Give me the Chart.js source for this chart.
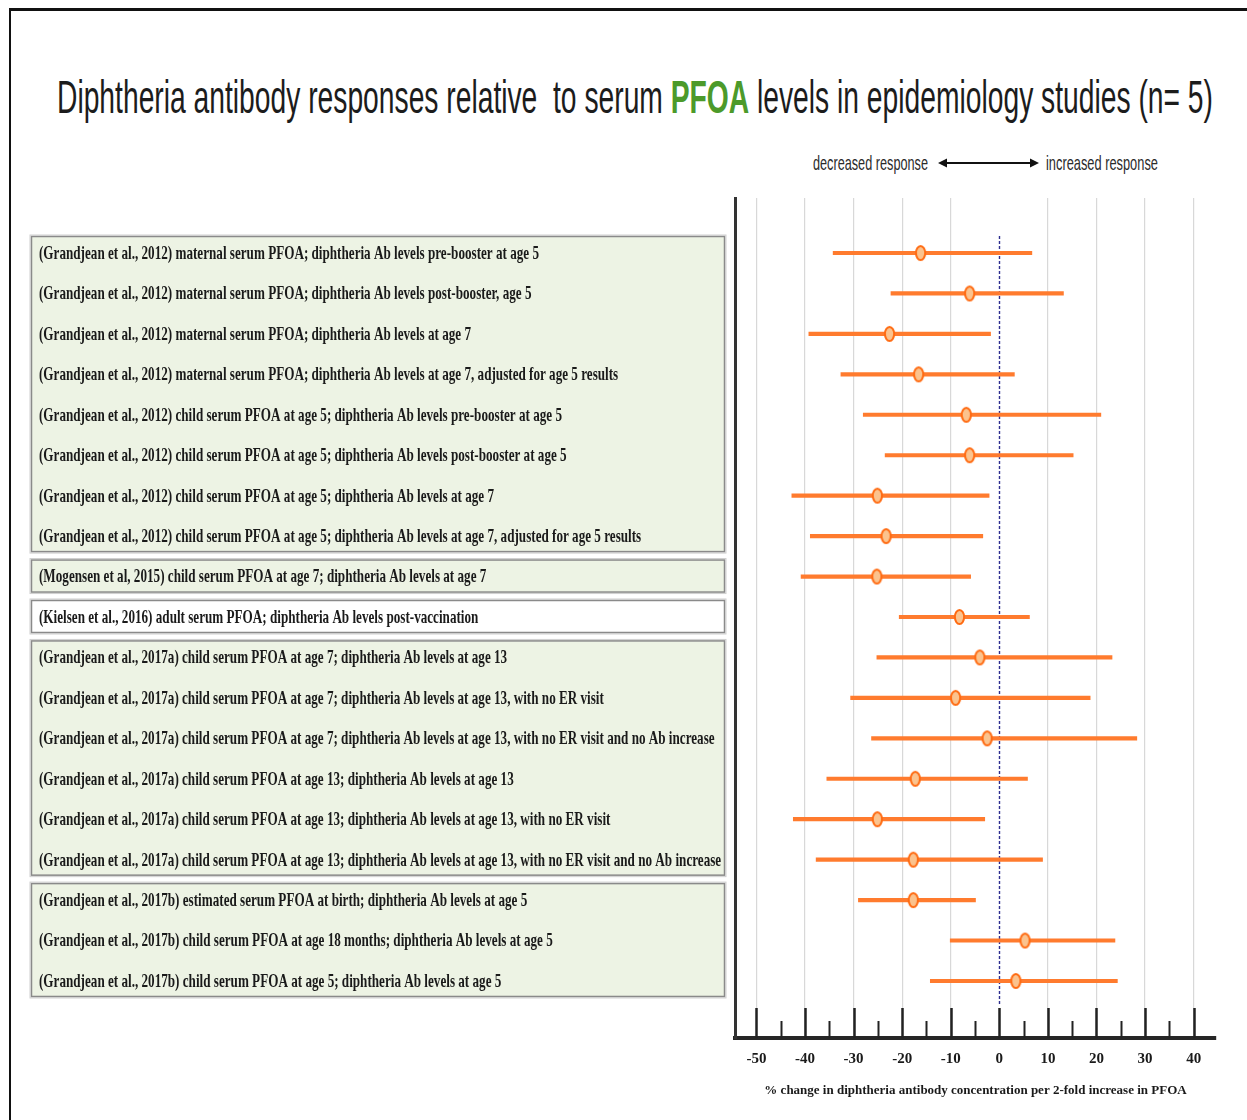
<!DOCTYPE html>
<html><head><meta charset="utf-8">
<script src="https://cdn.jsdelivr.net/npm/chart.js@4.4.1/dist/chart.umd.min.js"></script>
<style>
html,body{margin:0;padding:0;background:#fff;overflow:hidden;width:1247px;height:1120px;}
#frame{position:absolute;left:9px;top:8px;width:1300px;height:1200px;border-top:3px solid #111;border-left:2px solid #111;}
#chart{position:absolute;left:0;top:0;}
.fit{position:absolute;white-space:nowrap;transform-origin:0 50%;line-height:1;}
#title{left:57px;top:81px;font-family:'Liberation Sans',Arial,sans-serif;font-size:32px;color:#1c1c1c;}
#title b{color:#4c9a2a;}
.ann{top:155px;font-family:'Liberation Sans',Arial,sans-serif;font-size:15px;color:#2b2b2b;}
</style></head><body>
<div id="frame"></div>
<div id="title" class="fit" data-w="1156" data-sy="1.42">Diphtheria antibody responses relative&nbsp; to serum <b>PFOA</b> levels&nbsp;in epidemiology studies (n= 5)</div>
<div class="fit ann" style="left:813px" data-w="115" data-sy="1.4">decreased response</div>
<svg style="position:absolute;left:938px;top:155px" width="102" height="16">
  <line x1="6" y1="8" x2="96" y2="8" stroke="#111" stroke-width="2"/>
  <polygon points="0,8 9,3.5 9,12.5" fill="#111"/>
  <polygon points="101,8 92,3.5 92,12.5" fill="#111"/>
</svg>
<div class="fit ann" style="left:1046px" data-w="112" data-sy="1.4">increased response</div>
<canvas id="chart" width="1247" height="1120"></canvas>
<script>
// ---------- data ----------
const rowLabels = [
  "(Grandjean et al., 2012) maternal serum PFOA; diphtheria Ab levels pre-booster at age 5",
  "(Grandjean et al., 2012) maternal serum PFOA; diphtheria Ab levels post-booster, age 5",
  "(Grandjean et al., 2012) maternal serum PFOA; diphtheria Ab levels at age 7",
  "(Grandjean et al., 2012) maternal serum PFOA; diphtheria Ab levels at age 7, adjusted for age 5 results",
  "(Grandjean et al., 2012) child serum PFOA at age 5; diphtheria Ab levels pre-booster at age 5",
  "(Grandjean et al., 2012) child serum PFOA at age 5; diphtheria Ab levels post-booster at age 5",
  "(Grandjean et al., 2012) child serum PFOA at age 5; diphtheria Ab levels at age 7",
  "(Grandjean et al., 2012) child serum PFOA at age 5; diphtheria Ab levels at age 7, adjusted for age 5 results",
  "(Mogensen et al, 2015) child serum PFOA at age 7; diphtheria Ab levels at age 7",
  "(Kielsen et al., 2016) adult serum PFOA; diphtheria Ab levels post-vaccination",
  "(Grandjean et al., 2017a) child serum PFOA at age 7; diphtheria Ab levels at age 13",
  "(Grandjean et al., 2017a) child serum PFOA at age 7; diphtheria Ab levels at age 13, with no ER visit",
  "(Grandjean et al., 2017a) child serum PFOA at age 7; diphtheria Ab levels at age 13, with no ER visit and no Ab increase",
  "(Grandjean et al., 2017a) child serum PFOA at age 13; diphtheria Ab levels at age 13",
  "(Grandjean et al., 2017a) child serum PFOA at age 13; diphtheria Ab levels at age 13, with no ER visit",
  "(Grandjean et al., 2017a) child serum PFOA at age 13; diphtheria Ab levels at age 13, with no ER visit and no Ab increase",
  "(Grandjean et al., 2017b) estimated serum PFOA at birth; diphtheria Ab levels at age 5",
  "(Grandjean et al., 2017b) child serum PFOA at age 18 months; diphtheria Ab levels at age 5",
  "(Grandjean et al., 2017b) child serum PFOA at age 5; diphtheria Ab levels at age 5"
];
const estimates = [-16.2, -6.1, -22.6, -16.6, -6.8, -6.1, -25.1, -23.3, -25.2, -8.2, -4.0, -9.0, -2.5, -17.3, -25.1, -17.7, -17.7, 5.3, 3.4];
const lowerCI   = [-34.2, -22.3, -39.2, -32.6, -28.0, -23.5, -42.7, -38.9, -40.8, -20.6, -25.2, -30.6, -26.3, -35.5, -42.4, -37.7, -29.0, -10.1, -14.2];
const upperCI   = [6.7, 13.2, -1.8, 3.1, 20.9, 15.2, -2.1, -3.4, -5.9, 6.2, 23.2, 18.7, 28.3, 5.8, -3.0, 8.9, -4.9, 23.8, 24.3];
const majorTicks = [-50, -40, -30, -20, -10, 0, 10, 20, 30, 40];
const minorTicks = [-45, -35, -25, -15, -5, 5, 15, 25, 35];
const referenceValue = 0;
const groupFirstRow = [0, 8, 9, 10, 16];
const groupLastRow  = [7, 8, 9, 15, 18];
const groupFill = ['#edf3e4', '#edf3e4', '#ffffff', '#edf3e4', '#edf3e4'];
const xTitle = "% change in diphtheria antibody concentration per 2-fold increase in PFOA";

// ---------- html text fitting ----------
document.querySelectorAll('.fit').forEach(el => {
  const w = el.offsetWidth;
  const sx = parseFloat(el.dataset.w) / w;
  el.style.transform = `scale(${sx}, ${el.dataset.sy})`;
});

// ---------- marker ----------
function makeMarker() {
  const c = document.createElement('canvas');
  c.width = 13; c.height = 18;
  const g = c.getContext('2d');
  g.beginPath();
  g.ellipse(6.5, 9, 4.6, 7, 0, 0, Math.PI * 2);
  g.fillStyle = '#fbc38e'; g.fill();
  g.lineWidth = 2; g.strokeStyle = '#ff6b12'; g.stroke();
  return c;
}

const decor = {
  id: 'decor',
  beforeDatasetsDraw(chart) {
    const { ctx, scales: { x, y }, chartArea } = chart;
    ctx.save();
    ctx.strokeStyle = '#222';
    majorTicks.forEach(v => {
      const px = Math.round(x.getPixelForValue(v)) + 0.5;
      ctx.lineWidth = 2.5;
      ctx.beginPath(); ctx.moveTo(px, chartArea.bottom - 30); ctx.lineTo(px, chartArea.bottom); ctx.stroke();
    });
    minorTicks.forEach(v => {
      const px = Math.round(x.getPixelForValue(v)) + 0.5;
      ctx.lineWidth = 2;
      ctx.beginPath(); ctx.moveTo(px, chartArea.bottom - 17); ctx.lineTo(px, chartArea.bottom); ctx.stroke();
    });
    const zx = Math.round(x.getPixelForValue(referenceValue)) + 0.5;
    ctx.strokeStyle = '#2e2f8f';
    ctx.lineWidth = 1.4;
    ctx.setLineDash([3, 2]);
    ctx.beginPath();
    ctx.moveTo(zx, y.getPixelForValue(0) - 17);
    ctx.lineTo(zx, y.getPixelForValue(rowLabels.length - 1) + 24);
    ctx.stroke();
    ctx.restore();
  },
  afterDraw(chart) {
    const { ctx, scales: { y } } = chart;
    ctx.save();
    groupFirstRow.forEach((first, k) => {
      const top = y.getPixelForValue(first) - 17;
      const bot = y.getPixelForValue(groupLastRow[k]) + 16;
      const left = 31, right = 725;
      ctx.fillStyle = groupFill[k];
      ctx.fillRect(left, top, right - left, bot - top);
      ctx.lineWidth = 1;
      ctx.strokeStyle = '#cfcfcf';
      ctx.strokeRect(left - 1, top - 1, right - left + 2, bot - top + 2);
      ctx.lineWidth = 1.5;
      ctx.strokeStyle = '#8a8a8a';
      ctx.strokeRect(left + 0.5, top + 0.5, right - left - 1, bot - top - 1);
    });
    ctx.font = 'bold 13px "Liberation Serif", "Times New Roman", serif';
    ctx.fillStyle = '#1a1a1a';
    ctx.textBaseline = 'middle';
    ctx.textAlign = 'left';
    const sx = 500 / ctx.measureText(rowLabels[0]).width;
    rowLabels.forEach((lab, i) => {
      ctx.save();
      ctx.translate(39, y.getPixelForValue(i) + 1);
      ctx.scale(sx, 1.45);
      ctx.fillText(lab, 0, 0);
      ctx.restore();
    });
    ctx.restore();
  }
};

const rows = rowLabels.map((_, i) => i);

new Chart(document.getElementById('chart'), {
  type: 'scatter',
  data: {
    datasets: [
      {
        type: 'bar',
        indexAxis: 'y',
        data: rows.map(i => ({ x: [lowerCI[i], upperCI[i]], y: i })),
        backgroundColor: '#ff7b2e',
        borderWidth: 0,
        barThickness: 3.5,
        order: 2
      },
      {
        type: 'scatter',
        data: rows.map(i => ({ x: estimates[i], y: i })),
        pointStyle: makeMarker(),
        pointRadius: 6,
        order: 1
      }
    ]
  },
  options: {
    responsive: false,
    animation: false,
    events: [],
    devicePixelRatio: 1,
    layout: { padding: { top: 198, right: 31, left: 0, bottom: 0 } },
    plugins: { legend: { display: false }, tooltip: { enabled: false }, title: { display: false } },
    scales: {
      x: {
        type: 'linear',
        offset: false,
        min: -54.4,
        max: 44.6,
        afterBuildTicks: s => { s.ticks = majorTicks.map(v => ({ value: v })); },
        afterFit: s => { s.height = 82; },
        grid: {
          drawTicks: false,
          offset: false,
          color: c => (c.tick && c.tick.value === referenceValue) ? 'rgba(0,0,0,0)' : '#d8d8d8',
          lineWidth: 1.2
        },
        border: { display: true, color: '#262626', width: 4 },
        ticks: {
          font: { family: 'Liberation Serif', weight: 'bold', size: 15 },
          color: '#1a1a1a', padding: 12, maxRotation: 0, autoSkip: false
        },
        title: {
          display: true, text: xTitle,
          font: { family: 'Liberation Serif', weight: 'bold', size: 13 },
          color: '#1a1a1a', padding: { top: 0, bottom: 22 }
        }
      },
      y: {
        type: 'linear',
        offset: false,
        min: -1.36,
        max: 19.41,
        reverse: true,
        afterFit: s => { s.width = 735; },
        ticks: { display: false },
        grid: { display: false, drawTicks: false, offset: false },
        border: { display: true, color: '#333', width: 3 }
      }
    }
  },
  plugins: [decor]
});
</script>
</body></html>
